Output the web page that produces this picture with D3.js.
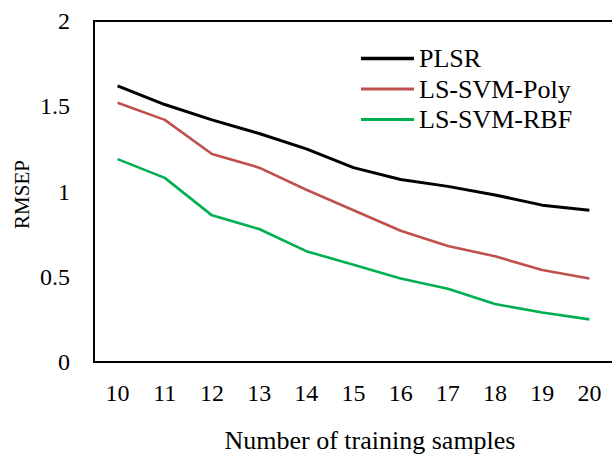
<!DOCTYPE html>
<html>
<head>
<meta charset="utf-8">
<script src="https://cdn.jsdelivr.net/npm/d3@7"></script>
<style>
  html, body { margin: 0; padding: 0; background: #fff; }
  svg { display: block; }
  text { font-family: "Liberation Serif", "Times New Roman", serif; fill: #000; }
</style>
</head>
<body>
<svg id="chart" width="612" height="455"></svg>
<script>
// Training-set sizes on the x axis
const samples = [10, 11, 12, 13, 14, 15, 16, 17, 18, 19, 20];

// RMSEP for each model
const plsr    = [1.62, 1.51, 1.42, 1.34, 1.25, 1.14, 1.07, 1.03, 0.98, 0.92, 0.89];
const lsPoly  = [1.52, 1.42, 1.22, 1.14, 1.01, 0.89, 0.77, 0.68, 0.62, 0.54, 0.49];
const lsRbf   = [1.19, 1.08, 0.86, 0.78, 0.65, 0.57, 0.49, 0.43, 0.34, 0.29, 0.25];

const seriesNames  = ["PLSR", "LS-SVM-Poly", "LS-SVM-RBF"];
const seriesColors = ["#000000", "#C0504D", "#00B050"];
const seriesWidths = [3, 2.6, 2.6];
const yTicks = [0, 0.5, 1, 1.5, 2];

const series = [plsr, lsPoly, lsRbf].map((vals, i) => ({
  name: seriesNames[i],
  color: seriesColors[i],
  width: seriesWidths[i],
  values: vals.map((v, j) => ({ x: samples[j], y: v }))
}));

const svg = d3.select("#chart");
const plot = { left: 94, top: 21, right: 613, bottom: 362 };

const x = d3.scaleBand()
  .domain(samples)
  .range([plot.left, plot.right])
  .paddingInner(0)
  .paddingOuter(0);

const y = d3.scaleLinear()
  .domain([0, 2])
  .range([plot.bottom, plot.top]);

const cx = d => x(d) + x.bandwidth() / 2;

// Plot frame
svg.append("rect")
  .attr("x", plot.left)
  .attr("y", plot.top)
  .attr("width", plot.right - plot.left + 10)
  .attr("height", plot.bottom - plot.top)
  .attr("fill", "none")
  .attr("stroke", "#000")
  .attr("stroke-width", 2);

// Y axis labels
const yAxis = d3.axisLeft(y)
  .tickValues(yTicks)
  .tickSize(0)
  .tickPadding(24)
  .tickFormat(d3.format("~g"));

svg.append("g")
  .attr("transform", `translate(${plot.left},0)`)
  .call(yAxis)
  .call(g => g.select(".domain").remove())
  .selectAll("text")
  .attr("font-family", "Liberation Serif, Times New Roman, serif")
  .attr("font-size", 24)
  .attr("fill", "#000");

// X axis labels
const xAxis = d3.axisBottom(x)
  .tickSize(0)
  .tickPadding(22);

svg.append("g")
  .attr("transform", `translate(0,${plot.bottom})`)
  .call(xAxis)
  .call(g => g.select(".domain").remove())
  .selectAll("text")
  .attr("font-family", "Liberation Serif, Times New Roman, serif")
  .attr("font-size", 24)
  .attr("fill", "#000");

// Axis titles
svg.append("text")
  .attr("x", 370)
  .attr("y", 449)
  .attr("text-anchor", "middle")
  .attr("font-size", 26)
  .text("Number of training samples");

svg.append("text")
  .attr("transform", "translate(29,194.5) rotate(-90)")
  .attr("text-anchor", "middle")
  .attr("font-size", 21)
  .text("RMSEP");

// Series lines
const line = d3.line()
  .x(d => cx(d.x))
  .y(d => y(d.y));

svg.append("g")
  .selectAll("path")
  .data(series)
  .join("path")
  .attr("d", d => line(d.values))
  .attr("fill", "none")
  .attr("stroke", d => d.color)
  .attr("stroke-width", d => d.width)
  .attr("stroke-linejoin", "round")
  .attr("stroke-linecap", "butt");

// Legend
const legend = svg.append("g").attr("transform", "translate(361,58.5)");
const item = legend.selectAll("g")
  .data(series)
  .join("g")
  .attr("transform", (d, i) => `translate(0,${i * 30.5})`);

item.append("line")
  .attr("x1", 0).attr("x2", 53)
  .attr("y1", 0).attr("y2", 0)
  .attr("stroke", d => d.color)
  .attr("stroke-width", d => d.width + 0.4);

item.append("text")
  .attr("x", 58)
  .attr("y", 0)
  .attr("dy", "0.33em")
  .attr("font-size", 26)
  .text(d => d.name);
</script>
</body>
</html>
